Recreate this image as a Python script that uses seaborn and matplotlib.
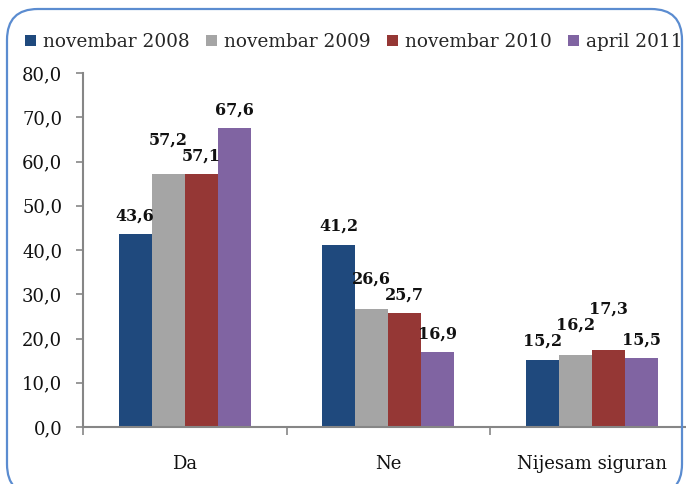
import numpy as np
import pandas as pd
import matplotlib
matplotlib.use("Agg")
import matplotlib.pyplot as plt
from matplotlib.patches import FancyBboxPatch
import seaborn as sns

categories = ["Da", "Ne", "Nijesam siguran"]
series = ["novembar 2008", "novembar 2009", "novembar 2010", "april 2011"]
values = {
    "novembar 2008": [43.6, 41.2, 15.2],
    "novembar 2009": [57.2, 26.6, 16.2],
    "novembar 2010": [57.1, 25.7, 17.3],
    "april 2011": [67.6, 16.9, 15.5],
}
colors = ["#1F497D", "#A5A5A5", "#953735", "#8064A2"]
yticks = [0, 10, 20, 30, 40, 50, 60, 70, 80]

rows = []
for s in series:
    for c, v in zip(categories, values[s]):
        rows.append({"kategorija": c, "period": s, "vrijednost": v})
df = pd.DataFrame(rows)

sns.set_theme(style="white")
plt.rcParams["font.family"] = ["DejaVu Serif", "DejaVu Sans"]

W, H = 686, 484
fig = plt.figure(figsize=(W / 100, H / 100), dpi=100)
fig.patch.set_facecolor("white")

# rounded frame around the chart
frame = FancyBboxPatch((7 / W, -11 / H), 675 / W, (H - 9 + 11) / H,
                       boxstyle="round,pad=0,rounding_size=0.045",
                       transform=fig.transFigure, facecolor="none",
                       edgecolor="#5B8CD0", linewidth=1.6, clip_on=False,
                       mutation_aspect=W / H)
fig.patches.append(frame)

ax = fig.add_axes([83 / W, (H - 427) / H, 610.5 / W, (427 - 73) / H])
sns.barplot(data=df, x="kategorija", y="vrijednost", hue="period",
            hue_order=series, order=categories, palette=colors,
            width=0.65, saturation=1, linewidth=0, ax=ax)

handles, labels = ax.get_legend_handles_labels()
ax.legend_.remove()

lab_size = 11.5
ann = []
for cont in ax.containers:
    txts = ax.bar_label(cont, labels=[f"{v:.1f}".replace(".", ",") for v in cont.datavalues],
                        padding=7, fontsize=lab_size, fontweight="bold", color="#111111")
    ann.append(list(zip(txts, cont.datavalues)))

ax.set_xlim(-0.5, 2.5)
ax.set_ylim(0, 80)
ax.set_yticks(yticks)
ax.set_yticklabels([f"{t:.1f}".replace(".", ",") for t in yticks])
ax.set_xticks([-0.5, 0.5, 1.5, 2.5])
ax.set_xticklabels([])
ax.set_xticks(range(len(categories)), minor=True)
ax.set_xticklabels(categories, minor=True)
ax.tick_params(axis="x", which="major", direction="out", length=6, width=1.2,
               color="#868686", bottom=True)
ax.tick_params(axis="x", which="minor", length=0, pad=20, labelsize=13,
               labelcolor="#111111")
ax.tick_params(axis="y", direction="out", length=5, width=1.2, color="#868686",
               left=True, pad=10, labelsize=13, labelcolor="#111111")
ax.set_xlabel("")
ax.set_ylabel("")
for side in ["top", "right"]:
    ax.spines[side].set_visible(False)
for side in ["left", "bottom"]:
    ax.spines[side].set_color("#868686")
    ax.spines[side].set_linewidth(1.5)

# neighbouring labels whose ink would touch: lift the higher one
fig.canvas.draw()
r = fig.canvas.get_renderer()
spx = lab_size * fig.dpi / 72


def ink(t):
    b = t.get_window_extent(r)
    return b.x0 + 2, b.x1 - 2, b.y0 + 0.09 * spx, b.y0 + 0.97 * spx


for g in range(len(categories)):
    grp = [ann[s][g] for s in range(len(series))]
    for _ in range(3):
        for (t1, v1), (t2, v2) in zip(grp[:-1], grp[1:]):
            a = ink(t1)
            b = ink(t2)
            xo = min(a[1], b[1]) - max(a[0], b[0])
            yo = min(a[3], b[3]) - max(a[2], b[2])
            if xo > 0 and yo > 0:
                up = t1 if v1 >= v2 else t2
                dx, dy = up.xyann
                up.xyann = (dx, dy + (yo + 2) * 72 / fig.dpi)

fig.legend(handles, labels, loc="center left", bbox_to_anchor=(25 / W, 1 - 42 / H),
           ncol=4, frameon=False, fontsize=13.3, handlelength=0.6,
           handleheight=0.6, handletextpad=0.4, columnspacing=0.85,
           borderpad=0, borderaxespad=0)

fig.savefig("out.png", dpi=100)
